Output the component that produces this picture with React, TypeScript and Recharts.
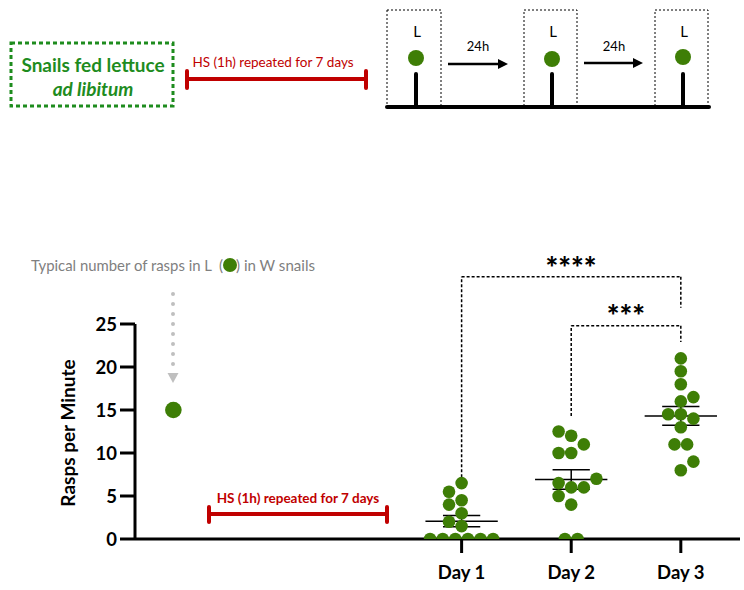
import React from 'react';
import { ScatterChart, Scatter, XAxis, YAxis, ReferenceLine } from 'recharts';

// ---------- data ----------
const dayLabels = ['Day 1', 'Day 2', 'Day 3'];
const day1Values = [0, 0, 0, 0, 0, 0, 1.5, 2, 3, 4, 4.5, 5.5, 6.5];
const day2Values = [0, 0, 4, 5, 6, 6, 6.5, 7, 10, 10, 11, 12, 12.5];
const day3Values = [8, 9, 11, 11, 13, 14, 14.5, 14.5, 16, 16.5, 18, 19.5, 21];
const typicalValues = [15];
const yTicks = [0, 5, 10, 15, 20, 25];
const starsLong = '****';
const starsShort = '***';
const hsText = 'HS (1h) repeated for 7 days';

// ---------- layout ----------
const W = 744;
const H = 590;
const M = { top: 324, right: 4, bottom: 0, left: 0 };
const Y_AXIS_W = 135;
const X_AXIS_H = 51;
const X_DOMAIN: [number, number] = [-1.98, 3.54];
const Y_DOMAIN: [number, number] = [0, 25];
const TYPICAL_X = -1.63;
const PX_X = (W - M.right - Y_AXIS_W) / (X_DOMAIN[1] - X_DOMAIN[0]);
const PX_Y = (H - X_AXIS_H - M.top) / (Y_DOMAIN[1] - Y_DOMAIN[0]);

const GREEN = '#3e7e06';
const TEXT_GREEN = '#1e8c1e';
const RED = '#c00000';
const GRAY = '#808080';
const FONT = 'Lato, Calibri, "Open Sans", sans-serif';

const DOT_D = 12.6;

// beeswarm layout computed from the values
function swarm(values: number[], center: number) {
  const step = DOT_D / 2;
  const placed: { x: number; y: number; i: number }[] = [];
  const order = values.map((_, i) => i).sort((a, b) => values[a] - values[b]);
  const collide = (x: number, y: number, skip: Set<number>) =>
    placed.some((p) => !skip.has(p.i) && Math.hypot(p.x - x, p.y - y) < DOT_D - 0.01);
  for (const i of order) {
    const y = values[i] * PX_Y;
    const bias = placed.reduce((s, p) => s + p.x, 0);
    let chosen = 0;
    for (let k = 0; k < 60; k++) {
      const cands = k === 0 ? [0] : bias > 0 ? [-k * step, k * step] : [k * step, -k * step];
      const ok = cands.find((c) => !collide(c, y, new Set()));
      if (ok !== undefined) {
        chosen = ok;
        break;
      }
    }
    placed.push({ x: chosen, y, i });
  }
  // center rows of identical values when possible
  const groups = new Map<number, typeof placed>();
  placed.forEach((p) => {
    const v = values[p.i];
    if (!groups.has(v)) groups.set(v, []);
    groups.get(v)!.push(p);
  });
  groups.forEach((g) => {
    if (g.length < 2) return;
    const mean = g.reduce((s, p) => s + p.x, 0) / g.length;
    const skip = new Set(g.map((p) => p.i));
    const ok = g.every((p) => !collide(p.x - mean, p.y, skip));
    if (ok) g.forEach((p) => (p.x -= mean));
  });
  return placed
    .sort((a, b) => a.i - b.i)
    .map((p) => ({ x: center + p.x / PX_X, y: values[p.i] }));
}

const stats = (v: number[]) => {
  const n = v.length;
  const mean = v.reduce((s, a) => s + a, 0) / n;
  const sd = Math.sqrt(v.reduce((s, a) => s + (a - mean) ** 2, 0) / (n - 1));
  return { mean, sem: sd / Math.sqrt(n) };
};

const dayValues = [day1Values, day2Values, day3Values];
const dayData = dayValues.map((v, k) => swarm(v, k + 1));
const dayStats = dayValues.map(stats);
const typicalData = typicalValues.map((y) => ({ x: TYPICAL_X, y }));

const MEAN_HALF = 0.33;
const CAP_HALF = 0.17;

const Dot = (r: number) => (p: any) => <circle cx={p.cx} cy={p.cy} r={r} fill={GREEN} />;

const seg = (x1: number, y1: number, x2: number, y2: number, key: string, dashed = false) => (
  <ReferenceLine
    key={key}
    segment={[
      { x: x1, y: y1 },
      { x: x2, y: y2 },
    ]}
    stroke="#000"
    strokeWidth={1.5}
    strokeDasharray={dashed ? '3 2' : undefined}
    ifOverflow="visible"
  />
);

// bracket heights (annotation positions, in data units)
const BR1 = { from: 1, to: 3, top: 30.5, leftBottom: 6.6, rightBottom: 26.9 };
const BR2 = { from: 2, to: 3, top: 24.8, leftBottom: 14.3, rightBottom: 22.9 };

export default function App() {
  const meanLines: React.ReactNode[] = [];
  dayStats.forEach((s, k) => {
    const c = k + 1;
    meanLines.push(seg(c - MEAN_HALF, s.mean, c + MEAN_HALF, s.mean, `m${k}`));
    meanLines.push(seg(c - CAP_HALF, s.mean + s.sem, c + CAP_HALF, s.mean + s.sem, `u${k}`));
    meanLines.push(seg(c - CAP_HALF, s.mean - s.sem, c + CAP_HALF, s.mean - s.sem, `l${k}`));
    meanLines.push(seg(c, s.mean - s.sem, c, s.mean + s.sem, `v${k}`));
  });
  const brackets = [BR1, BR2].flatMap((b, i) => [
    seg(b.from, b.leftBottom, b.from, b.top, `b${i}a`, true),
    seg(b.from, b.top, b.to, b.top, `b${i}b`, true),
    seg(b.to, b.top, b.to, b.rightBottom, `b${i}c`, true),
  ]);

  return (
    <div style={{ position: 'absolute', left: 0, top: 0, width: W, height: H, background: '#fff' }}>
      <ScatterChart width={W} height={H} margin={M}>
        <XAxis
          type="number"
          dataKey="x"
          domain={X_DOMAIN}
          ticks={[1, 2, 3]}
          tickFormatter={(v: number) => dayLabels[v - 1]}
          height={X_AXIS_H}
          axisLine={{ stroke: '#000', strokeWidth: 3 }}
          tickLine={{ stroke: '#000', strokeWidth: 3 }}
          tickSize={14}
          tickMargin={13}
          tick={{ fill: '#000', fontSize: 18.5, fontWeight: 700, fontFamily: FONT }}
          allowDataOverflow
        />
        <YAxis
          type="number"
          dataKey="y"
          domain={Y_DOMAIN}
          ticks={yTicks}
          width={Y_AXIS_W}
          axisLine={{ stroke: '#000', strokeWidth: 3 }}
          tickLine={{ stroke: '#000', strokeWidth: 3 }}
          tickSize={15}
          tickMargin={3}
          tick={{ fill: '#000', fontSize: 18.5, fontWeight: 700, fontFamily: FONT }}
          allowDataOverflow
        />
        {brackets}
        {dayData.map((d, k) => (
          <Scatter key={k} data={d} fill={GREEN} shape={Dot(6.3)} isAnimationActive={false} />
        ))}
        <Scatter data={typicalData} fill={GREEN} shape={Dot(8.3)} isAnimationActive={false} />
        {meanLines}
      </ScatterChart>
      <svg
        width={W}
        height={H}
        style={{ position: 'absolute', left: 0, top: 0, pointerEvents: 'none' }}
        fontFamily={FONT}
      >
        {/* top-left box */}
        <rect x={11} y={43} width={162} height={63} fill="none" stroke={TEXT_GREEN} strokeWidth={3} strokeDasharray="4 3" />
        <text x={93} y={64} textAnchor="middle" dominantBaseline="central" fontSize={19} fontWeight={700} fill={TEXT_GREEN}>
          Snails fed lettuce
        </text>
        <text x={93} y={88} textAnchor="middle" dominantBaseline="central" fontSize={19} fontWeight={700} fontStyle="italic" fill={TEXT_GREEN}>
          ad libitum
        </text>
        {/* top red bar */}
        <text x={273} y={62} textAnchor="middle" dominantBaseline="central" fontSize={13.5} fill={RED}>
          {hsText}
        </text>
        <line x1={186} y1={79} x2={367} y2={79} stroke={RED} strokeWidth={4} />
        <line x1={187} y1={71} x2={187} y2={88} stroke={RED} strokeWidth={4} strokeLinecap="round" />
        <line x1={366} y1={71} x2={366} y2={88} stroke={RED} strokeWidth={4} strokeLinecap="round" />
        {/* top right diagram */}
        {[
          { x: 387, w: 54, cx: 416, cy: 58 },
          { x: 524, w: 53, cx: 552, cy: 59 },
          { x: 655, w: 53, cx: 683, cy: 57 },
        ].map((b, i) => (
          <g key={i}>
            <rect x={b.x} y={10} width={b.w} height={97} fill="none" stroke="#000" strokeWidth={1} strokeDasharray="2 2" />
            <text x={b.cx + 1} y={31} textAnchor="middle" dominantBaseline="central" fontSize={15} fill="#000">
              L
            </text>
            <circle cx={b.cx} cy={b.cy} r={8} fill={GREEN} />
            <line x1={b.cx} y1={74} x2={b.cx} y2={107} stroke="#000" strokeWidth={4} strokeLinecap="round" />
          </g>
        ))}
        <line x1={387} y1={107} x2={709} y2={107} stroke="#000" strokeWidth={4} strokeLinecap="round" />
        {[
          { x1: 448, x2: 508, y: 64, tx: 478 },
          { x1: 584, x2: 643, y: 63, tx: 614 },
        ].map((a, i) => (
          <g key={i}>
            <line x1={a.x1} y1={a.y} x2={a.x2 - 8} y2={a.y} stroke="#000" strokeWidth={2.5} />
            <polygon points={`${a.x2 - 10},${a.y - 5} ${a.x2},${a.y} ${a.x2 - 10},${a.y + 5}`} fill="#000" />
            <text x={a.tx} y={46} textAnchor="middle" dominantBaseline="central" fontSize={13} fill="#000">
              24h
            </text>
          </g>
        ))}
        {/* typical annotation */}
        <text x={31} y={265} dominantBaseline="central" fontSize={15} fill={GRAY} textLength={181} lengthAdjust="spacingAndGlyphs">
          Typical number of rasps in L
        </text>
        <text x={219} y={265} dominantBaseline="central" fontSize={15} fill={GRAY}>
          (
        </text>
        <circle cx={230} cy={265} r={7} fill={GREEN} />
        <text x={236} y={265} dominantBaseline="central" fontSize={15} fill={GRAY} textLength={79} lengthAdjust="spacingAndGlyphs">
          ) in W snails
        </text>
        <line x1={173} y1={294} x2={173} y2={366} stroke="#bfbfbf" strokeWidth={4} strokeLinecap="round" strokeDasharray="0 10" />
        <polygon points="167.5,373 178.5,373 173,383" fill="#bfbfbf" />
        {/* stars */}
        <text x={571} y={279} textAnchor="middle" fontSize={30} fontWeight={900} fill="#000">
          {starsLong}
        </text>
        <text x={626} y={327} textAnchor="middle" fontSize={30} fontWeight={900} fill="#000">
          {starsShort}
        </text>
        {/* y label */}
        <text
          x={67}
          y={433}
          transform="rotate(-90 67 433)"
          textAnchor="middle"
          dominantBaseline="central"
          fontSize={19}
          fontWeight={700}
          fill="#000"
        >
          Rasps per Minute
        </text>
        {/* bottom red bar */}
        <text x={298} y={498} textAnchor="middle" dominantBaseline="central" fontSize={13.5} fontWeight={700} fill={RED}>
          {hsText}
        </text>
        <line x1={209} y1={514} x2={387} y2={514} stroke={RED} strokeWidth={4} />
        <line x1={209} y1={507} x2={209} y2={522} stroke={RED} strokeWidth={4} strokeLinecap="round" />
        <line x1={387} y1={507} x2={387} y2={522} stroke={RED} strokeWidth={4} strokeLinecap="round" />
      </svg>
    </div>
  );
}
